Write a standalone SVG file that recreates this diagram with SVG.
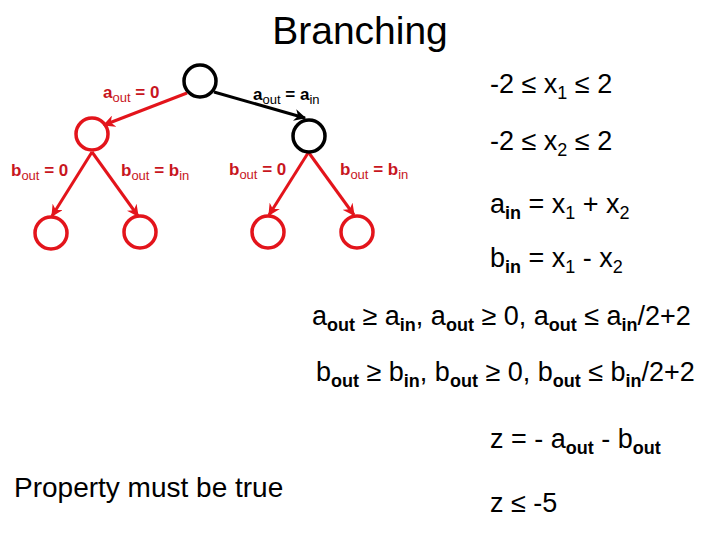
<svg xmlns="http://www.w3.org/2000/svg" width="720" height="540" viewBox="0 0 720 540">
<style>
text{font-family:"Liberation Sans",Arial,sans-serif;}
.t{font-size:27px;fill:#000;}
.lbl{font-size:17px;font-weight:bold;}
.red{fill:#C8161E;}
.blk{fill:#000;}
.s{font-size:18px;}
.ls{font-size:13px;font-weight:normal;}
.b{font-weight:bold;}
.cr{fill:none;stroke:#E3141B;stroke-width:3.5;}
.cb{fill:none;stroke:#000;stroke-width:3.5;}
.er{stroke:#E3141B;stroke-width:3;fill:none;}
.eb{stroke:#000;stroke-width:3;fill:none;}
</style>
<defs>
<marker id="ar" viewBox="0 0 10 10" refX="9" refY="5" markerWidth="4" markerHeight="4" orient="auto" markerUnits="strokeWidth">
<path d="M0,0 L10,5 L0,10 L3,5 z" fill="#E3141B"/>
</marker>
<marker id="ab" viewBox="0 0 10 10" refX="9" refY="5" markerWidth="4" markerHeight="4" orient="auto" markerUnits="strokeWidth">
<path d="M0,0 L10,5 L0,10 L3,5 z" fill="#000"/>
</marker>
</defs>
<rect width="720" height="540" fill="#fff"/>
<text x="360" y="44" text-anchor="middle" font-size="39">Branching</text>

<g id="connectors">
<line class="er" x1="187" y1="93" x2="104" y2="125" marker-end="url(#ar)"/>
<line class="eb" x1="214" y1="92" x2="305" y2="118" marker-end="url(#ab)"/>
<line class="er" x1="92" y1="152" x2="52" y2="216" marker-end="url(#ar)"/>
<line class="er" x1="92" y1="152" x2="138" y2="216" marker-end="url(#ar)"/>
<line class="er" x1="308" y1="153" x2="269" y2="215" marker-end="url(#ar)"/>
<line class="er" x1="309" y1="153" x2="354" y2="215" marker-end="url(#ar)"/>
</g>

<g id="root"><circle class="cb" cx="200" cy="81" r="16"/></g>
<g id="left-mid"><circle class="cr" cx="92" cy="134" r="16"/></g>
<g id="right-mid"><circle class="cb" cx="309" cy="136" r="16"/></g>
<g id="leaf1"><circle class="cr" cx="51" cy="233" r="16"/></g>
<g id="leaf2"><circle class="cr" cx="140" cy="232" r="16"/></g>
<g id="leaf3"><circle class="cr" cx="268" cy="232" r="16"/></g>
<g id="leaf4"><circle class="cr" cx="357" cy="232" r="16"/></g>

<g id="edge-labels">
<text class="lbl red" x="103" y="98">a<tspan class="ls" dy="4">out</tspan><tspan dy="-4"> = 0</tspan></text>
<text class="lbl blk" x="253" y="100">a<tspan class="ls" dy="4">out</tspan><tspan dy="-4"> = a</tspan><tspan class="ls" dy="4">in</tspan></text>
<text class="lbl red" x="11" y="176">b<tspan class="ls" dy="4">out</tspan><tspan dy="-4"> = 0</tspan></text>
<text class="lbl red" x="121" y="176">b<tspan class="ls" dy="4">out</tspan><tspan dy="-4"> = b</tspan><tspan class="ls" dy="4">in</tspan></text>
<text class="lbl red" x="229" y="175">b<tspan class="ls" dy="4">out</tspan><tspan dy="-4"> = 0</tspan></text>
<text class="lbl red" x="340" y="175">b<tspan class="ls" dy="4">out</tspan><tspan dy="-4"> = b</tspan><tspan class="ls" dy="4">in</tspan></text>
</g>

<g id="equations">
<text class="t" x="490" y="93">-2 ≤ x<tspan class="s" dy="6">1</tspan><tspan dy="-6"> ≤ 2</tspan></text>
<text class="t" x="490" y="150">-2 ≤ x<tspan class="s" dy="6">2</tspan><tspan dy="-6"> ≤ 2</tspan></text>
<text class="t" x="490" y="213">a<tspan class="s b" dy="6">in</tspan><tspan dy="-6"> = x</tspan><tspan class="s" dy="6">1</tspan><tspan dy="-6"> + x</tspan><tspan class="s" dy="6">2</tspan></text>
<text class="t" x="490" y="267">b<tspan class="s b" dy="6">in</tspan><tspan dy="-6"> = x</tspan><tspan class="s" dy="6">1</tspan><tspan dy="-6"> - x</tspan><tspan class="s" dy="6">2</tspan></text>
<text class="t" x="312" y="325">a<tspan class="s b" dy="6">out</tspan><tspan dy="-6"> ≥ a</tspan><tspan class="s b" dy="6">in</tspan><tspan dy="-6">, a</tspan><tspan class="s b" dy="6">out</tspan><tspan dy="-6"> ≥ 0, a</tspan><tspan class="s b" dy="6">out</tspan><tspan dy="-6"> ≤ a</tspan><tspan class="s b" dy="6">in</tspan><tspan dy="-6">/2+2</tspan></text>
<text class="t" x="316" y="381">b<tspan class="s b" dy="6">out</tspan><tspan dy="-6"> ≥ b</tspan><tspan class="s b" dy="6">in</tspan><tspan dy="-6">, b</tspan><tspan class="s b" dy="6">out</tspan><tspan dy="-6"> ≥ 0, b</tspan><tspan class="s b" dy="6">out</tspan><tspan dy="-6"> ≤ b</tspan><tspan class="s b" dy="6">in</tspan><tspan dy="-6">/2+2</tspan></text>
<text class="t" x="490" y="448">z = - a<tspan class="s b" dy="6">out</tspan><tspan dy="-6"> - b</tspan><tspan class="s b" dy="6">out</tspan></text>
<text class="t" x="14" y="497" style="font-size:28px">Property must be true</text>
<text class="t" x="490" y="512">z ≤ -5</text>
</g>
</svg>
